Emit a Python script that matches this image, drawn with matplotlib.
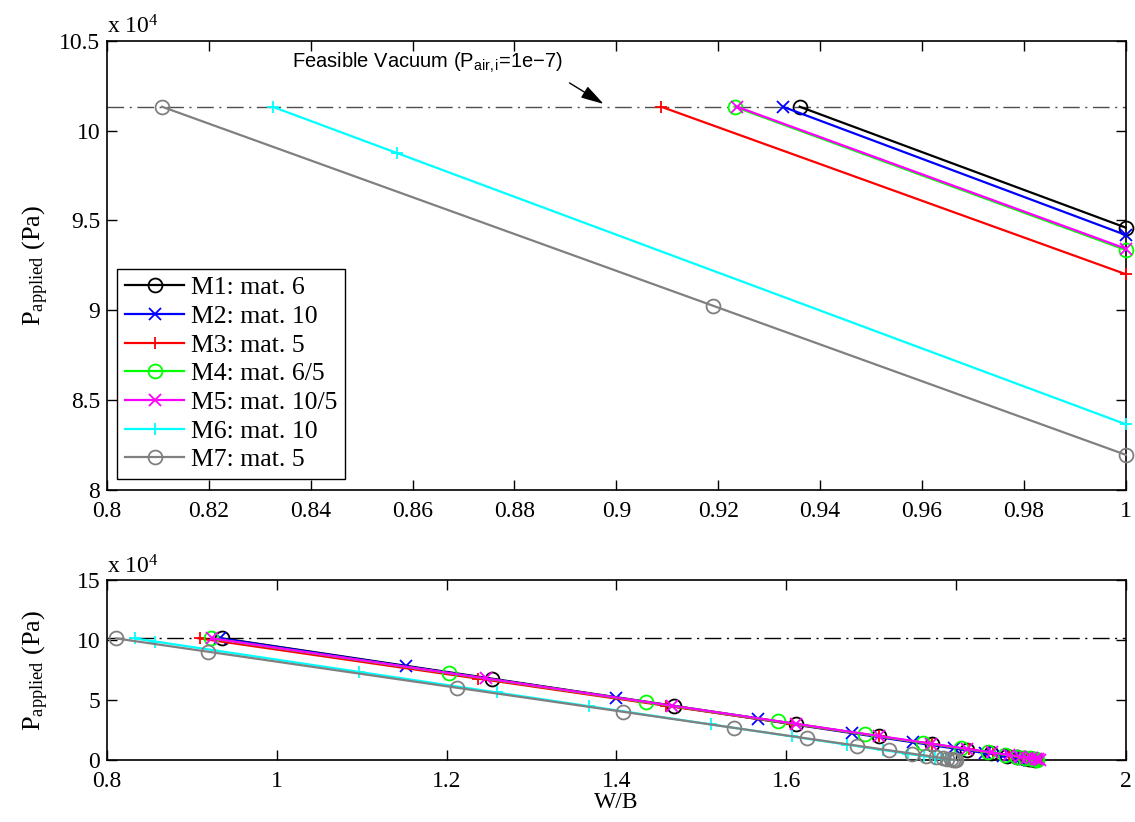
import matplotlib
matplotlib.use('Agg')
import matplotlib.pyplot as plt
from matplotlib.ticker import FuncFormatter

plt.rcParams['font.family'] = ['Liberation Serif', 'DejaVu Serif']
plt.rcParams['mathtext.fontset'] = 'custom'
plt.rcParams['mathtext.rm'] = 'Liberation Serif'
plt.rcParams['mathtext.it'] = 'Liberation Serif:italic'
plt.rcParams['mathtext.bf'] = 'Liberation Serif:bold'
plt.rcParams['mathtext.sf'] = 'Liberation Sans'

# ---------------- data ----------------
series_labels = ['M1: mat. 6', 'M2: mat. 10', 'M3: mat. 5', 'M4: mat. 6/5',
                 'M5: mat. 10/5', 'M6: mat. 10', 'M7: mat. 5']

P_VACUUM = 101325  # feasible vacuum line (Pa)

# top panel (zoom, W/B up to 1)
top_wb_m1 = [0.936, 1.0]
top_p_m1 = [101325, 94600]
top_wb_m2 = [0.9327, 1.0]
top_p_m2 = [101325, 94190]
top_wb_m3 = [0.9088, 1.0]
top_p_m3 = [101325, 92010]
top_wb_m4 = [0.9232, 1.0]
top_p_m4 = [101325, 93360]
top_wb_m5 = [0.9237, 1.0]
top_p_m5 = [101325, 93430]
top_wb_m6 = [0.8325, 0.857, 1.0]
top_p_m6 = [101325, 98740, 83660]
top_wb_m7 = [0.8108, 0.919, 1.0]
top_p_m7 = [101325, 90250, 81960]

# bottom panel (full range)
wb_m1 = [0.936, 1.254, 1.468, 1.612, 1.709, 1.772, 1.813, 1.841, 1.860, 1.872, 1.880, 1.886, 1.889, 1.891, 1.893]
p_m1 = [101325, 67740, 45150, 29940, 19700, 13040, 8710, 5760, 3750, 2480, 1640, 1000, 690, 480, 270]
wb_m2 = [0.933, 1.152, 1.400, 1.567, 1.677, 1.750, 1.798, 1.834, 1.855, 1.868, 1.876, 1.881, 1.884, 1.886, 1.887]
p_m2 = [101325, 78110, 51820, 34120, 22460, 14720, 9630, 5820, 3590, 2210, 1370, 840, 520, 310, 200]
wb_m3 = [0.909, 1.237, 1.459, 1.607, 1.709, 1.772, 1.815, 1.844, 1.863, 1.876, 1.884, 1.890, 1.894, 1.896, 1.898]
p_m3 = [101325, 67840, 45170, 30060, 19650, 13210, 8820, 5860, 3920, 2590, 1780, 1160, 760, 550, 350]
wb_m4 = [0.923, 1.203, 1.435, 1.590, 1.693, 1.761, 1.806, 1.838, 1.858, 1.872, 1.881, 1.887, 1.891, 1.894, 1.896]
p_m4 = [101325, 72290, 48230, 32160, 21480, 14430, 9760, 6440, 4370, 2910, 1980, 1360, 940, 630, 420]
wb_m5 = [0.924, 1.246, 1.465, 1.612, 1.709, 1.771, 1.813, 1.842, 1.862, 1.875, 1.884, 1.890, 1.894, 1.897, 1.899]
p_m5 = [101325, 68000, 45330, 30120, 20080, 13660, 9310, 6310, 4240, 2900, 1970, 1340, 930, 620, 410]
wb_m6 = [0.8325, 0.857, 1.097, 1.259, 1.368, 1.511, 1.607, 1.672, 1.714, 1.743, 1.762, 1.775, 1.783, 1.788, 1.791]
p_m6 = [101325, 98740, 73420, 56330, 44830, 29740, 19620, 12760, 8330, 5270, 3260, 1890, 1050, 520, 200]
wb_m7 = [0.8108, 0.919, 1.2125, 1.408, 1.538, 1.625, 1.683, 1.7215, 1.748, 1.765, 1.777, 1.785, 1.790, 1.794, 1.797, 1.799, 1.800]
p_m7 = [101325, 90250, 60190, 40170, 26860, 17950, 12010, 8070, 5360, 3620, 2390, 1570, 1060, 650, 340, 150, 50]

top_data = [(top_wb_m1, top_p_m1), (top_wb_m2, top_p_m2), (top_wb_m3, top_p_m3),
            (top_wb_m4, top_p_m4), (top_wb_m5, top_p_m5), (top_wb_m6, top_p_m6),
            (top_wb_m7, top_p_m7)]
bottom_data = [(wb_m1, p_m1), (wb_m2, p_m2), (wb_m3, p_m3), (wb_m4, p_m4),
               (wb_m5, p_m5), (wb_m6, p_m6), (wb_m7, p_m7)]

top_xticks = [0.8, 0.82, 0.84, 0.86, 0.88, 0.9, 0.92, 0.94, 0.96, 0.98, 1.0]
top_yticks = [80000, 85000, 90000, 95000, 100000, 105000]
bot_xticks = [0.8, 1.0, 1.2, 1.4, 1.6, 1.8, 2.0]
bot_yticks = [0, 50000, 100000, 150000]

# ---------------- styles ----------------
colors = ['#000000', '#0000ff', '#ff0000', '#00ff00', '#ff00ff', '#00ffff', '#808080']
markers = ['o', 'x', '+', 'o', 'x', '+', 'o']

fig = plt.figure(figsize=(11.35, 8.22), dpi=100)
ax1 = fig.add_axes([0.0943, 0.4039, 0.8975, 0.5466])
ax2 = fig.add_axes([0.0943, 0.0754, 0.8975, 0.219])

dashdot = (0, (12, 4, 1.5, 4))


def style(ax):
    ax.tick_params(direction='in', length=7, width=1, top=True, right=True,
                   labelsize=17)
    ax.tick_params(axis='x', pad=8)
    ax.tick_params(axis='y', pad=5)
    for s in ax.spines.values():
        s.set_linewidth(1.2)
    ax.xaxis.set_major_formatter(FuncFormatter(lambda v, p: '%g' % round(v, 4)))
    ax.yaxis.set_major_formatter(FuncFormatter(lambda v, p: '%g' % round(v / 1e4, 4)))


# top panel
ax1.axhline(P_VACUUM, color='#4d4d4d', lw=1.0, linestyle=dashdot, zorder=1)
handles = []
for (x, y), c, m, lab in zip(top_data, colors, markers, series_labels):
    h, = ax1.plot(x, y, color=c, lw=1.6, marker=m, markersize=10 if m == 'o' else 9,
                  markerfacecolor='none', markeredgewidth=1.3, label=lab, clip_on=False,
                  zorder=3)
    handles.append(h)
ax1.set_xlim(0.8, 1.0)
ax1.set_ylim(80000, 105000)
ax1.set_xticks(top_xticks)
ax1.set_yticks(top_yticks)
style(ax1)
ax1.set_ylabel(r'P$_{\mathrm{applied}}$ (Pa)', fontsize=19)
ax1.yaxis.set_label_coords(-0.055, 0.5)
ax1.text(0.0, 1.005, r'x 10$^{4}$', transform=ax1.transAxes, fontsize=17,
         ha='left', va='bottom')

ax1.annotate('', xy=(0.8975, 101480), xytext=(0.8908, 102650),
             arrowprops=dict(arrowstyle='-|>,head_length=1.4,head_width=0.4',
                             color='k', lw=1.0, shrinkA=0, shrinkB=0))
ax1.text(0.8363, 103800, r'Feasible Vacuum (P$_{\mathsf{air,i}}$=1e−7)',
         fontsize=14.5, family=['Liberation Sans', 'DejaVu Sans'],
         ha='left', va='center')

leg = ax1.legend(handles=handles, loc='lower left', bbox_to_anchor=(0.0101, 0.0245),
                 borderaxespad=0, fontsize=18.5, frameon=True, fancybox=False,
                 edgecolor='k', framealpha=1, handlelength=2.3, handletextpad=0.25,
                 labelspacing=0.22, borderpad=0.3)
leg.get_frame().set_linewidth(1.0)

# bottom panel
ax2.axhline(P_VACUUM, color='#000000', lw=1.0, linestyle=dashdot, zorder=1)
for (x, y), c, m in zip(bottom_data, colors, markers):
    ax2.plot(x, y, color=c, lw=1.6, marker=m, markersize=10 if m == 'o' else 9,
             markerfacecolor='none', markeredgewidth=1.3, clip_on=False, zorder=3)
ax2.set_xlim(0.8, 2.0)
ax2.set_ylim(0, 150000)
ax2.set_xticks(bot_xticks)
ax2.set_yticks(bot_yticks)
style(ax2)
ax2.set_ylabel(r'P$_{\mathrm{applied}}$ (Pa)', fontsize=19)
ax2.yaxis.set_label_coords(-0.055, 0.5)
ax2.set_xlabel('W/B', fontsize=17, labelpad=0)
ax2.text(0.0, 1.01, r'x 10$^{4}$', transform=ax2.transAxes, fontsize=17,
         ha='left', va='bottom')

fig.savefig('out.png', dpi=100)
